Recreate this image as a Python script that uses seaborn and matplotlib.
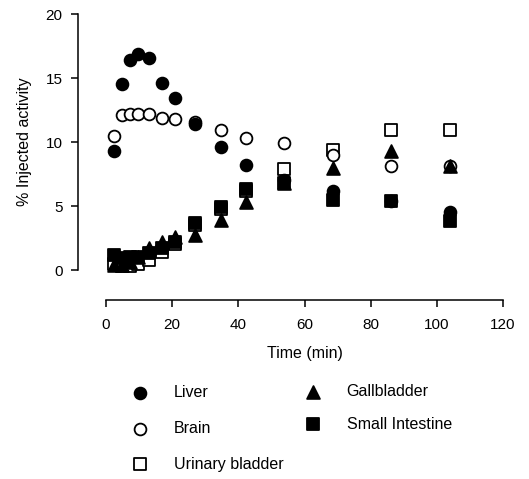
import matplotlib
matplotlib.use("Agg")
import matplotlib.pyplot as plt
import seaborn as sns
import pandas as pd

time_min = [2.4, 4.8, 7.2, 9.6, 12.9, 16.9, 21.0, 27.0, 34.8, 42.4, 53.8, 68.6, 86.0, 103.9]
liver = [9.3, 14.5, 16.4, 16.9, 16.6, 14.6, 13.4, 11.4, 9.6, 8.2, 7.0, 6.2, 5.4, 4.5]
brain = [10.5, 12.1, 12.2, 12.2, 12.2, 11.9, 11.8, 11.6, 10.9, 10.3, 9.9, 9.0, 8.1, 8.1]
urinary_bladder = [0.5, 0.3, 0.3, 0.5, 0.8, 1.4, 2.0, 3.5, 4.8, 6.2, 7.9, 9.4, 10.9, 10.9]
gallbladder = [0.4, 0.4, 0.6, 1.0, 1.7, 2.2, 2.6, 2.7, 3.9, 5.3, 6.8, 8.0, 9.3, 8.1]
small_intestine = [1.2, 0.9, 1.0, 1.0, 1.3, 1.7, 2.2, 3.65, 4.95, 6.3, 6.8, 5.5, 5.4, 3.8]

x_ticks = [0, 20, 40, 60, 80, 100, 120]
y_ticks = [0, 5, 10, 15, 20]

sns.set_style("ticks")
plt.rcParams["font.family"] = ["Liberation Sans", "DejaVu Sans"]
plt.rcParams["text.color"] = "black"
plt.rcParams["axes.labelcolor"] = "black"
plt.rcParams["xtick.color"] = "black"
plt.rcParams["ytick.color"] = "black"

W, H = 529, 479
PX = 72 / 100  # points per pixel
fig = plt.figure(figsize=(W / 100, H / 100), dpi=100)
ax = fig.add_axes([106 / W, 1 - 270 / H, 397 / W, 256 / H])

series = [
    ("Urinary bladder", urinary_bladder, "s", "white"),
    ("Brain", brain, "o", "white"),
    ("Liver", liver, "o", "black"),
    ("Small Intestine", small_intestine, "s", "black"),
    ("Gallbladder", gallbladder, "^", "black"),
]
for name, vals, mk, fc in series:
    df = pd.DataFrame({"t": time_min, "v": vals})
    sns.scatterplot(data=df, x="t", y="v", ax=ax, marker=mk, s=72 if mk != "^" else 85,
                    color=fc, edgecolor="black", linewidth=1.3, clip_on=False,
                    label=name, zorder=3)
h, l = ax.get_legend_handles_labels()
hd = dict(zip(l, h))
ax.get_legend().remove()

ax.set_xlim(0, 120)
ax.set_ylim(0, 20)
ax.set_xticks(x_ticks)
ax.set_yticks(y_ticks)
ax.set_xlabel("Time (min)", fontsize=11.5, labelpad=10)
ax.set_ylabel("% Injected activity", fontsize=11.5, labelpad=10)
ax.tick_params(axis="both", which="major", labelsize=11, length=7 * PX, width=1.1,
               direction="out")
ax.tick_params(axis="x", pad=8, bottom=True, top=False)
ax.tick_params(axis="y", pad=6, left=True, right=False)
for s in ["top", "right"]:
    ax.spines[s].set_visible(False)
ax.spines["left"].set_position(("outward", 28 * PX))
ax.spines["bottom"].set_position(("outward", 30 * PX))
for s in ["left", "bottom"]:
    ax.spines[s].set_color("black")
    ax.spines[s].set_linewidth(1.1)

fs = 11.5
leg1 = fig.legend([hd["Liver"], hd["Brain"], hd["Urinary bladder"]],
                  ["Liver", "Brain", "Urinary bladder"],
                  loc="upper left", bbox_to_anchor=(132 / W, 1 - 385 / H),
                  frameon=False, fontsize=fs, handlelength=1.0, handletextpad=1.6,
                  labelspacing=1.3, borderpad=0, borderaxespad=0, scatterpoints=1)
leg2 = fig.legend([hd["Gallbladder"], hd["Small Intestine"]],
                  ["Gallbladder", "Small Intestine"],
                  loc="upper left", bbox_to_anchor=(305 / W, 1 - 384 / H),
                  frameon=False, fontsize=fs, handlelength=1.0, handletextpad=1.6,
                  labelspacing=1.1, borderpad=0, borderaxespad=0, scatterpoints=1)

fig.savefig("out.png", dpi=100)
